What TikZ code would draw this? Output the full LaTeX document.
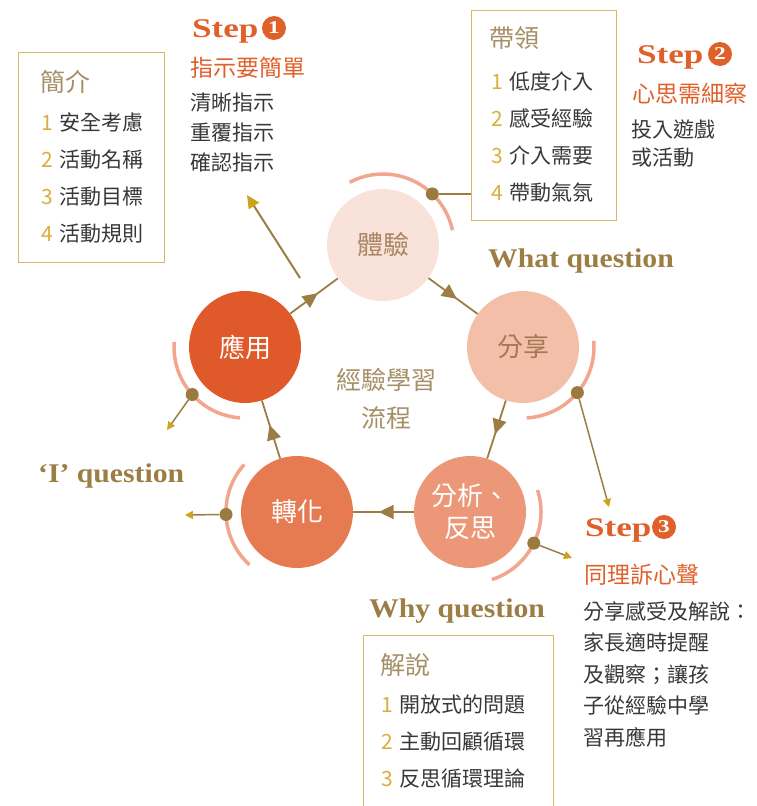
\documentclass[tikz,border=0pt]{standalone}
\usepackage{fontspec}
\setmainfont{Noto Sans CJK TC}
\newfontfamily\stepfont{Liberation Serif}[FakeStretch=1.3]
\newfontfamily\questfont{Liberation Serif}[FakeStretch=1.1]
\usetikzlibrary{arrows.meta, positioning, calc, decorations.markings}

\definecolor{steporange}{HTML}{E0602A}
\definecolor{boxgold}{HTML}{D8B865}
\definecolor{titlebrown}{HTML}{A58F66}
\definecolor{linebrown}{HTML}{9C7E45}
\definecolor{dotbrown}{HTML}{9A7A3E}
\definecolor{tipgold}{HTML}{CFA21E}
\definecolor{arcpink}{HTML}{F2A68E}
\definecolor{numgold}{HTML}{D9AE3C}
\definecolor{bodygray}{HTML}{383838}
\definecolor{fillexper}{HTML}{F9E2DA}
\definecolor{fillshare}{HTML}{F3BFA9}
\definecolor{fillreflect}{HTML}{EC9878}
\definecolor{filltransfer}{HTML}{E67A50}
\definecolor{fillapply}{HTML}{E0592A}
\definecolor{textexper}{HTML}{A98560}
\definecolor{textshare}{HTML}{A27A56}

\newcommand{\itemno}[1]{\textcolor{numgold}{#1}\hspace{7pt}}

\begin{document}
\begin{tikzpicture}[x=1pt, y=1pt,
    stage/.style     = {circle, minimum size=112pt, inner sep=0pt, align=center,
                        font=\fontsize{26}{32}\selectfont},
    box/.style       = {rectangle, draw=boxgold, line width=1.3pt, anchor=north west},
    boxtitle/.style  = {anchor=west, inner sep=0pt, text=titlebrown,
                        font=\fontsize{25}{25}\selectfont},
    boxlist/.style   = {anchor=north west, inner sep=0pt, align=left, text=bodygray,
                        font=\fontsize{21}{37}\selectfont},
    steplabel/.style = {anchor=base west, inner sep=0pt, text=steporange,
                        font=\stepfont\bfseries\fontsize{27}{27}\selectfont},
    stepnum/.style   = {circle, fill=steporange, text=white, minimum size=24pt, inner sep=0pt,
                        font=\stepfont\bfseries\fontsize{18}{18}\selectfont},
    steptitle/.style = {anchor=west, inner sep=0pt, text=steporange,
                        font=\fontsize{23}{23}\selectfont},
    stepbody/.style  = {anchor=north west, inner sep=0pt, align=left, text=bodygray,
                        font=\fontsize{21}{30}\selectfont},
    question/.style  = {anchor=base west, inner sep=0pt, text=linebrown,
                        font=\questfont\bfseries\fontsize{27}{27}\selectfont},
    flow/.style      = {draw=linebrown, line width=1.8pt, postaction={decorate},
                        decoration={markings, mark=at position 0.58 with
                                    {\arrow{Triangle[length=15pt,width=14pt]}}}},
    rim/.style       = {draw=arcpink, line width=3.5pt},
    dot/.style       = {circle, fill=dotbrown, minimum size=13pt, inner sep=0pt},
    pointer/.style   = {draw=linebrown, line width=1.5pt,
                        -{Triangle[length=8pt,width=8pt,color=tipgold]}}
]
\useasboundingbox (0,0) rectangle (756,-806);

% =====================
% Cycle (clockwise)
% =====================

\node[stage, fill=fillexper, text=textexper] (exper) at (383,-245) {體驗};
\node[stage, fill=fillshare, text=textshare] (share) at (523,-347) {分享};
\node[stage, fill=fillreflect, text=white] (reflect) at (470,-512) {分析、\\反思};
\node[stage, fill=filltransfer, text=white] (transfer) at (297,-512) {轉化};
\node[stage, fill=fillapply, text=white] (apply) at (245,-347) {應用};

\node[text=titlebrown, align=center, font=\fontsize{25}{38}\selectfont] (centre) at (386,-399)
    {經驗學習\\流程};

\draw[flow] (apply) -- (exper);
\draw[flow] (exper) -- (share);
\draw[flow] (share) -- (reflect);
\draw[flow] (reflect) -- (transfer);
\draw[flow] (transfer) -- (apply);

% Rims and dots
\draw[rim] ($(exper)+(118:71)$) arc[start angle=118, end angle=12, radius=71];
\draw[rim] ($(share)+(5:71)$) arc[start angle=5, end angle=-87, radius=71];
\draw[rim] ($(reflect)+(18:71)$) arc[start angle=18, end angle=-72, radius=71];
\draw[rim] ($(transfer)+(138:71)$) arc[start angle=138, end angle=228, radius=71];
\draw[rim] ($(apply)+(176:71)$) arc[start angle=176, end angle=266, radius=71];

\node[dot] (experdot) at ($(exper)+(46:71)$) {};
\node[dot] (sharedot) at ($(share)+(-40:71)$) {};
\node[dot] (reflectdot) at ($(reflect)+(-26:71)$) {};
\node[dot] (transferdot) at ($(transfer)+(182:71)$) {};
\node[dot] (applydot) at ($(apply)+(222:71)$) {};

% =====================
% Boxes
% =====================

\node[box, minimum width=146pt, minimum height=210pt] (intro) at (18,-52) {};
\node[boxtitle] (introtitle) at (40,-82) {簡介};
\node[boxlist] (introlist) at (41,-112.5)
    {\itemno{1}安全考慮\\\itemno{2}活動名稱\\\itemno{3}活動目標\\\itemno{4}活動規則};

\node[box, minimum width=145pt, minimum height=210pt] (lead) at (471,-10) {};
\node[boxtitle] (leadtitle) at (489,-38) {帶領};
\node[boxlist] (leadlist) at (491,-71.5)
    {\itemno{1}低度介入\\\itemno{2}感受經驗\\\itemno{3}介入需要\\\itemno{4}帶動氣氛};

\node[box, minimum width=190pt, minimum height=180pt] (explain) at (363,-635) {};
\node[boxtitle] (explaintitle) at (380,-665) {解說};
\node[boxlist] (explainlist) at (381,-694.5)
    {\itemno{1}開放式的問題\\\itemno{2}主動回顧循環\\\itemno{3}反思循環理論};

% =====================
% Steps
% =====================

\node[steplabel] (step1) at (192,-37) {Step};
\node[stepnum] (step1no) at (274,-28) {1};
\node[steptitle] (step1title) at (190,-68) {指示要簡單};
\node[stepbody] (step1body) at (190,-92.5) {清晰指示\\重覆指示\\確認指示};

\node[steplabel] (step2) at (637,-63) {Step};
\node[stepnum] (step2no) at (720,-54) {2};
\node[steptitle] (step2title) at (632,-94) {心思需細察};
\node[stepbody, font=\fontsize{21}{28}\selectfont] (step2body) at (631,-120) {投入遊戲\\或活動};

\node[steplabel] (step3) at (585,-536) {Step};
\node[stepnum] (step3no) at (664,-527) {3};
\node[steptitle] (step3title) at (584,-575) {同理訴心聲};
\node[stepbody, font=\fontsize{21}{31.5}\selectfont] (step3body) at (583,-601)
    {分享感受及解說：\\家長適時提醒\\及觀察；讓孩\\子從經驗中學\\習再應用};

% Questions
\node[question] (qwhat) at (488,-267) {What question};
\node[question] (qi) at (38,-482) {‘I’ question};
\node[question] (qwhy) at (369,-617) {Why question};

% =====================
% Pointers
% =====================

\coordinate (s1from) at (300,-278);
\coordinate (s1to) at (247,-195);
\coordinate (shareend) at (609,-507);
\coordinate (reflectend) at (572,-558);
\coordinate (transferend) at (185,-515);
\coordinate (applyend) at (167,-430);

\draw[pointer, line width=2pt, -{Triangle[length=13pt,width=12pt,color=tipgold]}] (s1from) -- (s1to);
\draw[draw=linebrown, line width=1.5pt] (experdot) -- (experdot -| lead.west);
\draw[pointer] (sharedot) -- (shareend);
\draw[pointer] (reflectdot) -- (reflectend);
\draw[pointer] (transferdot) -- (transferend);
\draw[pointer] (applydot) -- (applyend);

\end{tikzpicture}
\end{document}
